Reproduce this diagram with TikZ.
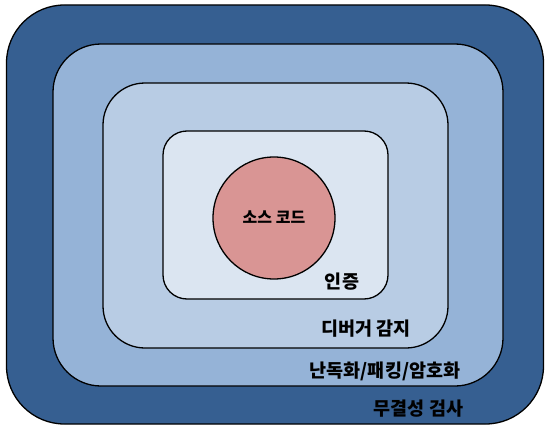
\documentclass[tikz,border=0pt]{standalone}
\usepackage{fontspec}
\newfontfamily\kr{Noto Sans CJK KR}
\definecolor{c1}{HTML}{365F91}
\definecolor{c2}{HTML}{95B3D7}
\definecolor{c3}{HTML}{B8CCE4}
\definecolor{c4}{HTML}{DBE5F1}
\definecolor{c5}{HTML}{D99594}
\tikzset{
  layer/.style={draw=black, line width=1.3pt, rectangle, inner sep=0pt},
  lbl/.style={font=\kr\bfseries\fontsize{18.5}{18.5}\selectfont, inner sep=0pt, anchor=center}
}
\begin{document}
\begin{tikzpicture}[x=1pt,y=-1pt]
\useasboundingbox (0,0) rectangle (546,428);
\node[layer, fill=c1, rounded corners=58pt, minimum width=537pt, minimum height=419pt] (l1) at (275,214.5) {};
\node[layer, fill=c2, rounded corners=48pt, minimum width=450pt, minimum height=342pt] (l2) at (278,215) {};
\node[layer, fill=c3, rounded corners=42pt, minimum width=345pt, minimum height=265pt] (l3) at (275.5,215.5) {};
\node[layer, fill=c4, rounded corners=24pt, minimum width=225pt, minimum height=168pt] (l4) at (275.5,215) {};
\node[draw=black, line width=1.3pt, circle, fill=c5, minimum size=122pt, inner sep=0pt] (core) at (274,218) {};
\node[lbl, font=\kr\bfseries\fontsize{16}{16}\selectfont] (tcore) at (274,217) {소스 코드};
\node[lbl] (t4) at (342,282) {인증};
\node[lbl] (t3) at (366,328.5) {디버거 감지};
\node[lbl] (t2) at (385,371.5) {난독화/패킹/암호화};
\node[lbl] (t1) at (418.5,409) {무결성 검사};
\end{tikzpicture}
\end{document}
